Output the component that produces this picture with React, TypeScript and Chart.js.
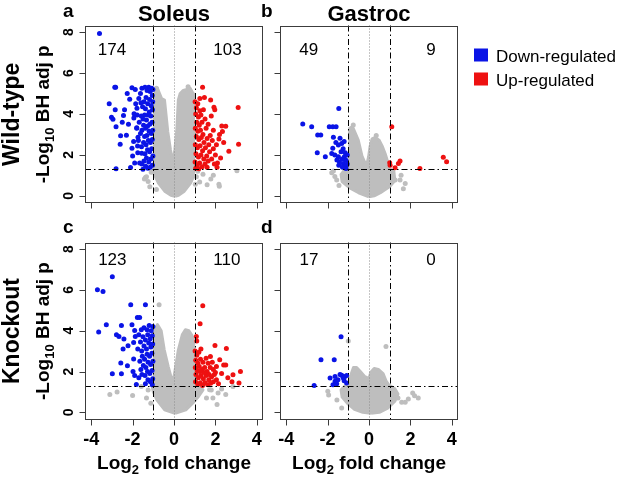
import React, { useEffect, useRef } from "react";
import { Chart, registerables } from "chart.js";

Chart.register(...registerables);

type Pt = [number, number];

// ---------- text & categories ----------
const COLUMNS = ["Soleus", "Gastroc"];
const ROWS = ["Wild-type", "Knockout"];
const PANEL_LETTERS = ["a", "b", "c", "d"];
const LEGEND_LABELS = ["Down-regulated", "Up-regulated"];
const DOWN_COUNTS = [174, 49, 123, 17];
const UP_COUNTS = [103, 9, 110, 0];

// ---------- axes ----------
const X_TICKS = [-4, -2, 0, 2, 4];
const Y_TICKS = [0, 2, 4, 6, 8];
const X_MIN = -4.3;
const X_MAX = 4.3;
const Y_MIN = -0.35;
const Y_MAX = 8.32;
const P_CUT = 1.301; // -log10(0.05)
const FC_CUT = 1;

// ---------- panel a : Soleus, wild-type ----------
const A_CORE: Pt[] = [
  [0.05, -0.02], [-0.15, 0.03], [-0.43, 0.21], [-0.75, 0.62], [-0.93, 1.0], [-0.95, 1.3], [-0.95, 3.2],
  [-0.94, 4.6], [-0.9, 5.15], [-0.8, 5.25], [-0.7, 5.0], [-0.6, 4.75], [-0.46, 4.68], [-0.3, 3.12],
  [-0.17, 2.24], [-0.06, 1.6], [0.04, 2.24], [0.13, 3.12], [0.21, 4.68], [0.3, 5.0], [0.45, 5.15],
  [0.62, 5.2], [0.78, 5.25], [0.92, 5.0], [0.95, 4.4], [0.95, 3.0], [0.95, 1.3], [0.92, 0.95],
  [0.8, 0.62], [0.48, 0.21], [0.22, 0.03],
];
const A_GRAY: Pt[] = [
  [-1.38, 0.9], [-0.85, 0.31], [1.03, 0.57], [1.6, 0.54], [2.17, 0.57], [3.04, 1.22], [1.9, 1.01],
  [-1.33, 0.93], [-1.17, 0.44], [-1.43, 0.82], [1.08, 0.93], [1.24, 0.68], [1.78, 0.82], [2.19, 0.47],
  [-1.25, 0.7], [1.4, 1.05], [-0.85, 5.26], [0.68, 5.33], [-1.1, 1.15], [1.15, 1.2],
];
const A_DOWN: Pt[] = [
  [-3.6, 7.93], [-2.86, 5.3], [-2.82, 5.3], [-3.13, 4.5], [-3.02, 3.84], [-2.95, 3.74], [-2.84, 4.2],
  [-2.8, 3.38], [-2.6, 2.52], [-2.8, 1.32], [-2.58, 2.94], [-2.44, 3.92], [-2.39, 4.2], [-2.3, 2.96],
  [-2.14, 4.72], [-2.03, 5.28], [-1.93, 4.01], [-1.94, 3.8], [-2.03, 2.33], [-2.0, 1.95], [-2.1, 1.38],
  [-1.87, 5.2], [-2.26, 5.0], [-1.79, 4.28], [-1.8, 3.33], [-1.74, 2.86], [-1.76, 2.44], [-1.66, 1.6],
  [-1.56, 2.08], [-1.5, 1.3], [-2.2, 3.5], [-1.95, 2.65], [-2.5, 3.6], [-1.9, 1.6],
  [-1.02, 5.2], [-1.05, 4.9], [-1.08, 5.25], [-1.15, 5.1], [-1.22, 5.3], [-1.3, 5.15], [-1.4, 5.3],
  [-1.55, 5.25], [-1.62, 5.0], [-1.7, 4.75], [-1.03, 4.6], [-1.1, 4.4], [-1.18, 4.7], [-1.27, 4.5],
  [-1.35, 4.8], [-1.45, 4.6], [-1.52, 4.35], [-1.6, 4.55], [-1.38, 4.25], [-1.2, 4.1], [-1.04, 4.2],
  [-1.12, 3.9], [-1.25, 3.95], [-1.33, 3.7], [-1.42, 3.95], [-1.5, 3.75], [-1.58, 3.9], [-1.68, 3.6],
  [-1.06, 3.6], [-1.17, 3.5], [-1.28, 3.4], [-1.37, 3.3], [-1.47, 3.45], [-1.55, 3.2], [-1.03, 3.2],
  [-1.1, 3.05], [-1.2, 3.15], [-1.31, 2.95], [-1.42, 2.9], [-1.62, 3.05], [-1.05, 2.75], [-1.14, 2.6],
  [-1.24, 2.7], [-1.35, 2.5], [-1.47, 2.6], [-1.57, 2.4], [-1.08, 2.3], [-1.18, 2.15], [-1.28, 2.25],
  [-1.4, 2.05], [-1.02, 1.95], [-1.12, 1.8], [-1.22, 1.65], [-1.33, 1.85], [-1.45, 1.7], [-1.04, 1.5],
  [-1.15, 1.4], [-1.26, 1.35], [-1.37, 1.45], [-1.55, 1.55], [-1.75, 2.1], [-1.72, 2.7], [-1.8, 3.3],
  [-1.78, 3.95], [-1.85, 4.5],
];
const A_UP: Pt[] = [
  [1.38, 5.3], [1.47, 4.8], [1.77, 4.68], [1.93, 4.33], [1.97, 4.2], [3.1, 4.31], [2.31, 3.41],
  [2.34, 3.14], [3.12, 2.52], [2.65, 2.18], [2.17, 2.77], [2.1, 1.6], [2.08, 1.4], [1.6, 1.4],
  [2.2, 3.0], [2.5, 3.4], [2.05, 2.5], [2.4, 2.6], [2.25, 1.85],
  [1.02, 4.6], [1.08, 4.3], [1.15, 4.5], [1.25, 4.15], [1.05, 4.0], [1.18, 3.85], [1.3, 3.95],
  [1.42, 4.2], [1.1, 3.6], [1.22, 3.45], [1.35, 3.6], [1.5, 3.75], [1.03, 3.3], [1.15, 3.15],
  [1.28, 3.2], [1.4, 3.0], [1.55, 3.3], [1.65, 3.5], [1.08, 2.9], [1.2, 2.75], [1.32, 2.85],
  [1.45, 2.6], [1.6, 2.8], [1.75, 2.95], [1.03, 2.5], [1.13, 2.35], [1.26, 2.45], [1.38, 2.2],
  [1.52, 2.35], [1.68, 2.5], [1.85, 2.7], [1.06, 2.05], [1.18, 1.9], [1.3, 2.0], [1.44, 1.8],
  [1.58, 1.95], [1.72, 2.15], [1.9, 2.3], [1.02, 1.65], [1.12, 1.5], [1.24, 1.6], [1.36, 1.42],
  [1.5, 1.55], [1.65, 1.7], [1.82, 1.8], [1.05, 1.35], [1.2, 1.32], [1.95, 1.55], [2.0, 2.0],
  [1.9, 3.2], [1.8, 3.9], [1.25, 4.75],
];

// ---------- panel b : Gastroc, wild-type ----------
const B_CORE: Pt[] = [
  [0.0, -0.05], [-0.5, 0.15], [-0.95, 0.4], [-1.3, 0.7], [-1.35, 1.05], [-1.15, 1.3], [-0.95, 1.4],
  [-0.95, 2.6], [-0.92, 3.3], [-0.8, 3.38], [-0.68, 3.1], [-0.52, 2.72], [-0.33, 1.91], [-0.12, 1.45],
  [-0.02, 1.9], [0.05, 2.4], [0.15, 2.78], [0.3, 2.85], [0.5, 2.7], [0.65, 2.4], [0.8, 2.0],
  [0.92, 1.6], [0.95, 1.35], [1.2, 1.2], [1.25, 0.75], [1.0, 0.45], [0.55, 0.15], [0.25, 0.0],
];
const B_GRAY: Pt[] = [
  [-1.8, 1.13], [-1.56, 0.77], [-1.72, 1.21], [-1.65, 0.95], [1.66, 0.35], [1.26, 0.77], [1.5, 0.77],
  [1.55, 1.0], [-1.45, 0.5], [1.75, 0.6], [-0.76, 3.46], [0.35, 2.95],
];
const B_DOWN: Pt[] = [
  [-3.2, 3.51], [-2.77, 3.38], [-2.48, 2.97], [-2.33, 2.97], [-1.92, 3.38], [-1.75, 3.38], [-1.59, 3.38],
  [-1.46, 4.27], [-2.5, 2.1], [-2.11, 1.91], [-1.72, 2.86], [-1.4, 2.81], [-1.48, 2.48], [-1.32, 2.56],
  [-1.75, 2.32], [-1.8, 2.07], [-1.65, 2.0], [-1.48, 1.91], [-1.43, 1.66], [-1.24, 1.58], [-1.46, 1.5],
  [-1.11, 1.5], [-1.11, 1.34], [-1.19, 1.91], [-1.11, 1.74], [-1.25, 2.3], [-1.2, 2.65], [-1.35, 2.15],
  [-1.55, 1.75], [-1.3, 1.8], [-1.05, 1.55], [-1.15, 2.1], [-1.6, 2.6], [-1.28, 1.4], [-1.05, 2.0],
];
const B_UP: Pt[] = [
  [1.1, 3.38], [1.0, 1.62], [1.02, 1.5], [1.26, 1.37], [1.42, 1.58], [1.5, 1.7], [2.46, 1.34],
  [3.59, 1.88], [3.75, 1.66],
];

// ---------- panel c : Soleus, knockout ----------
const C_CORE: Pt[] = [
  [0.05, -0.05], [-0.45, 0.12], [-0.82, 0.6], [-1.0, 1.0], [-1.05, 1.27], [-0.95, 1.4], [-0.95, 3.3],
  [-0.9, 4.1], [-0.8, 4.3], [-0.62, 4.0], [-0.47, 3.05], [-0.28, 2.24], [-0.15, 1.75], [-0.04, 1.6],
  [0.0, 1.75], [0.08, 2.24], [0.21, 3.05], [0.4, 3.8], [0.55, 4.05], [0.72, 4.0], [0.88, 3.75],
  [0.95, 3.4], [0.95, 1.4], [1.2, 1.3], [1.4, 1.1], [1.2, 0.8], [0.95, 0.5], [0.57, 0.12],
];
const C_GRAY: Pt[] = [
  [-3.1, 0.87], [-2.75, 1.0], [-2.0, 0.83], [-1.58, 1.27], [-1.33, 0.7], [-1.12, 0.45], [-0.72, 5.27],
  [2.13, 0.95], [2.5, 0.87], [2.08, 0.38], [1.57, 0.7], [2.85, 1.27], [-1.25, 1.1], [1.8, 1.1],
  [2.3, 1.15], [1.88, 0.7], [1.72, 1.11],
];
const C_DOWN: Pt[] = [
  [-2.98, 6.64], [-3.7, 6.0], [-3.43, 5.92], [-3.27, 4.29], [-3.64, 3.93], [-2.09, 5.27], [-1.38, 5.27],
  [-1.77, 4.65], [-1.66, 4.65], [-2.54, 4.26], [-2.03, 4.29], [-1.9, 4.01], [-2.78, 3.8], [-2.66, 3.72],
  [-2.42, 3.59], [-2.22, 3.26], [-2.46, 3.1], [-1.95, 3.42], [-1.87, 3.72], [-2.98, 1.89], [-2.54, 1.89],
  [-2.57, 2.42], [-2.25, 2.28], [-1.95, 2.61], [-1.98, 2.0], [-1.9, 1.8], [-1.82, 1.36],
  [-1.02, 4.2], [-1.1, 4.0], [-1.2, 4.25], [-1.3, 4.05], [-1.45, 4.15], [-1.58, 4.05], [-1.05, 3.75],
  [-1.15, 3.6], [-1.27, 3.8], [-1.38, 3.55], [-1.5, 3.7], [-1.62, 3.45], [-1.03, 3.35], [-1.12, 3.2],
  [-1.22, 3.4], [-1.33, 3.1], [-1.45, 3.25], [-1.56, 3.0], [-1.07, 2.9], [-1.18, 2.75], [-1.3, 2.85],
  [-1.42, 2.6], [-1.53, 2.75], [-1.65, 2.5], [-1.02, 2.5], [-1.13, 2.35], [-1.25, 2.45], [-1.36, 2.2],
  [-1.48, 2.3], [-1.6, 2.1], [-1.06, 2.05], [-1.17, 1.9], [-1.28, 2.0], [-1.4, 1.8], [-1.55, 1.85],
  [-1.03, 1.65], [-1.14, 1.5], [-1.26, 1.6], [-1.38, 1.4], [-1.05, 1.35], [-1.7, 1.7], [-1.75, 3.1],
  [-1.7, 3.8],
];
const C_UP: Pt[] = [
  [1.39, 5.22], [1.26, 4.34], [1.08, 3.72], [1.98, 3.28], [2.53, 3.13], [2.21, 2.58], [1.76, 2.74],
  [2.4, 2.32], [2.5, 2.32], [3.21, 2.0], [3.14, 1.44], [2.85, 1.84], [2.8, 1.5], [1.1, 3.5],
  [1.3, 3.1], [2.6, 1.7], [2.3, 1.9], [2.05, 2.25],
  [1.02, 3.0], [1.1, 2.8], [1.2, 2.95], [1.05, 2.55], [1.15, 2.4], [1.28, 2.6], [1.4, 2.45],
  [1.55, 2.65], [1.03, 2.2], [1.12, 2.05], [1.22, 2.25], [1.35, 2.1], [1.48, 2.2], [1.6, 2.0],
  [1.75, 2.2], [1.9, 2.1], [1.06, 1.85], [1.18, 1.7], [1.3, 1.8], [1.42, 1.65], [1.55, 1.8],
  [1.68, 1.6], [1.82, 1.75], [1.95, 1.85], [1.04, 1.5], [1.15, 1.38], [1.27, 1.45], [1.38, 1.32],
  [1.5, 1.45], [1.63, 1.35], [1.77, 1.42], [1.9, 1.5], [2.05, 1.6], [2.15, 1.4], [1.65, 2.4],
  [1.85, 2.45], [2.0, 1.95], [1.45, 1.95], [1.25, 2.0], [1.7, 1.85],
];

// ---------- panel d : Gastroc, knockout ----------
const D_CORE: Pt[] = [
  [0.1, -0.05], [-0.3, 0.0], [-0.7, 0.15], [-1.0, 0.4], [-1.3, 0.75], [-1.35, 1.1], [-1.15, 1.3],
  [-0.95, 1.45], [-0.85, 1.9], [-0.75, 2.2], [-0.6, 2.2], [-0.42, 2.0], [-0.2, 1.75], [0.0, 1.65],
  [0.08, 1.95], [0.25, 2.15], [0.45, 2.1], [0.68, 1.9], [0.82, 1.55], [0.95, 1.35], [1.25, 1.15],
  [1.4, 0.9], [1.25, 0.55], [0.9, 0.2], [0.5, 0.0],
];
const D_GRAY: Pt[] = [
  [-1.99, 1.03], [-1.95, 0.85], [-1.32, 0.21], [1.26, 0.95], [1.58, 0.49], [1.75, 0.5], [2.11, 0.95],
  [2.2, 0.81], [2.38, 0.7], [1.4, 0.7], [-1.0, 3.5], [0.82, 3.23], [-1.55, 0.6], [1.9, 0.65],
];
const D_DOWN: Pt[] = [
  [-1.35, 3.7], [-2.32, 2.58], [-1.68, 2.58], [-1.88, 1.68], [-1.64, 1.76], [-1.4, 1.85], [-1.32, 1.82],
  [-1.16, 1.76], [-1.08, 1.8], [-1.64, 1.52], [-1.56, 1.4], [-1.74, 1.35], [-1.08, 1.44], [-2.65, 1.32],
  [-1.25, 1.7], [-1.5, 1.6], [-1.2, 1.55],
];
const D_UP: Pt[] = [];

const PANEL_DATA = [
  { core: A_CORE, gray: A_GRAY, down: A_DOWN, up: A_UP },
  { core: B_CORE, gray: B_GRAY, down: B_DOWN, up: B_UP },
  { core: C_CORE, gray: C_GRAY, down: C_DOWN, up: C_UP },
  { core: D_CORE, gray: D_GRAY, down: D_DOWN, up: D_UP },
];

// count label anchor (data coordinates)
const COUNT_ANCHORS = [
  { down: [-3.0, 7.1], up: [2.58, 7.1] },
  { down: [-2.91, 7.1], up: [3.0, 7.1] },
  { down: [-2.98, 7.47], up: [2.55, 7.47] },
  { down: [-2.9, 7.47], up: [3.0, 7.47] },
];

// ---------- layout / style ----------
const W = 620;
const H = 477;
const BOXES = [
  { left: 85, top: 25.5, right: 263, bottom: 203 },
  { left: 280, top: 25.5, right: 458, bottom: 203 },
  { left: 85, top: 242.5, right: 263, bottom: 419.5 },
  { left: 280, top: 242.5, right: 458, bottom: 419.5 },
];
const FONT = "'Liberation Sans', Arial, Helvetica, sans-serif";
const GRAY = "#bebebe";
const BLUE = "#0a14e6";
const RED = "#ee1111";

type Part = [string, number, boolean, number];

function rich(ctx: CanvasRenderingContext2D, parts: Part[], x: number, y: number, center: boolean) {
  let total = 0;
  const widths: number[] = [];
  for (const [t, s, b] of parts) {
    ctx.font = `${b ? "bold " : ""}${s}px ${FONT}`;
    const w = ctx.measureText(t).width;
    widths.push(w);
    total += w;
  }
  let cx = center ? x - total / 2 : x;
  ctx.textAlign = "left";
  ctx.textBaseline = "alphabetic";
  parts.forEach(([t, s, b, dy], i) => {
    ctx.font = `${b ? "bold " : ""}${s}px ${FONT}`;
    ctx.fillText(t, cx, y + dy);
    cx += widths[i];
  });
}

function richRotated(ctx: CanvasRenderingContext2D, parts: Part[], baseX: number, centerY: number) {
  ctx.save();
  ctx.translate(baseX, centerY);
  ctx.rotate(-Math.PI / 2);
  rich(ctx, parts, 0, 0, true);
  ctx.restore();
}

function seg(ctx: CanvasRenderingContext2D, x1: number, y1: number, x2: number, y2: number) {
  ctx.beginPath();
  ctx.moveTo(x1, y1);
  ctx.lineTo(x2, y2);
  ctx.stroke();
}

const Y_LABEL: Part[] = [["-Log", 19, true, 0], ["10", 13, true, 5], [" BH adj p", 19, true, 0]];
const X_LABEL: Part[] = [["Log", 19, true, 0], ["2", 13, true, 5], [" fold change", 19, true, 0]];

function makePlugin(i: number) {
  const row = Math.floor(i / 2);
  const col = i % 2;
  return {
    id: "volcano" + i,
    afterDatasetsDraw(chart: any) {
      const { ctx, chartArea: a, scales } = chart;
      const sx = scales.x;
      const sy = scales.y;
      ctx.save();
      ctx.lineWidth = 1;
      // x = 0 reference
      ctx.strokeStyle = "#8c8c8c";
      ctx.setLineDash([1, 2]);
      const x0 = Math.round(sx.getPixelForValue(0)) + 0.5;
      seg(ctx, x0, a.top, x0, a.bottom);
      // thresholds
      ctx.strokeStyle = "#000";
      ctx.setLineDash([6, 3, 1.5, 3]);
      for (const v of [-FC_CUT, FC_CUT]) {
        const px = Math.round(sx.getPixelForValue(v)) + 0.5;
        seg(ctx, px, a.top, px, a.bottom);
      }
      const py = Math.round(sy.getPixelForValue(P_CUT)) + 0.5;
      seg(ctx, a.left, py, a.right, py);
      ctx.setLineDash([]);
      // box
      ctx.strokeStyle = "#3c3c3c";
      const L = Math.round(a.left) + 0.5;
      const T = Math.round(a.top) + 0.5;
      const R = Math.round(a.right) - 0.5;
      const B = Math.round(a.bottom) - 0.5;
      ctx.strokeRect(L, T, R - L, B - T);
      // ticks
      for (const t of X_TICKS) {
        const px = Math.round(sx.getPixelForValue(t)) + 0.5;
        seg(ctx, px, B, px, B + 6);
      }
      for (const t of Y_TICKS) {
        const yy = Math.round(sy.getPixelForValue(t)) + 0.5;
        seg(ctx, L - 6, yy, L, yy);
      }
      ctx.fillStyle = "#000";
      if (col === 0) {
        for (const t of Y_TICKS) {
          const yy = sy.getPixelForValue(t);
          richRotated(ctx, [[String(t), 14, true, 0]], 72.5, yy);
        }
      }
      if (row === 1) {
        ctx.font = `bold 18px ${FONT}`;
        ctx.textAlign = "center";
        ctx.textBaseline = "alphabetic";
        for (const t of X_TICKS) {
          ctx.fillText(String(t), sx.getPixelForValue(t), 445);
        }
      }
      // counts
      ctx.font = `17px ${FONT}`;
      ctx.textAlign = "center";
      ctx.textBaseline = "middle";
      const ca = COUNT_ANCHORS[i];
      ctx.fillText(String(DOWN_COUNTS[i]), sx.getPixelForValue(ca.down[0]), sy.getPixelForValue(ca.down[1]));
      ctx.fillText(String(UP_COUNTS[i]), sx.getPixelForValue(ca.up[0]), sy.getPixelForValue(ca.up[1]));
      ctx.restore();
    },
    afterDraw(chart: any) {
      const { ctx, chartArea: a } = chart;
      const cx = (a.left + a.right) / 2;
      const cy = (a.top + a.bottom) / 2;
      ctx.save();
      ctx.fillStyle = "#000";
      // panel letter
      rich(ctx, [[PANEL_LETTERS[i], 19, true, 0]], col === 0 ? 63 : 261, row === 0 ? 16.7 : 233.3, false);
      if (row === 0) rich(ctx, [[COLUMNS[col], 22, true, 0]], cx, 20.5, true);
      if (col === 0) {
        richRotated(ctx, [[ROWS[row], 23, true, 0]], 18.5, cy);
        richRotated(ctx, Y_LABEL, 49, cy);
      }
      if (row === 1) rich(ctx, X_LABEL, cx, 469, true);
      if (i === 1) {
        const colors = [BLUE, RED];
        LEGEND_LABELS.forEach((lab, k) => {
          ctx.fillStyle = colors[k];
          ctx.fillRect(474, 48.5 + k * 24, 14, 13);
          ctx.fillStyle = "#000";
          rich(ctx, [[lab, 17, false, 0]], 496, 62 + k * 24, false);
        });
      }
      ctx.restore();
    },
  };
}

const toXY = (pts: Pt[]) => pts.map(([x, y]) => ({ x, y }));

function Panel({ index }: { index: number }) {
  const ref = useRef<HTMLCanvasElement | null>(null);
  useEffect(() => {
    const d = PANEL_DATA[index];
    const box = BOXES[index];
    const pointStyle = (c: string) => ({
      backgroundColor: c,
      borderColor: c,
      borderWidth: 0,
      pointRadius: 2.5,
      pointHoverRadius: 2.5,
    });
    const chart = new Chart(ref.current as HTMLCanvasElement, {
      type: "scatter",
      data: {
        datasets: [
          { label: "Down-regulated", data: toXY(d.down), ...pointStyle(BLUE) } as any,
          { label: "Up-regulated", data: toXY(d.up), ...pointStyle(RED) } as any,
          { label: "Not significant", data: toXY(d.gray), ...pointStyle(GRAY) } as any,
          {
            type: "line",
            label: "Not significant (dense)",
            data: toXY([...d.core, d.core[0]]),
            borderColor: GRAY,
            backgroundColor: GRAY,
            borderWidth: 3,
            borderJoinStyle: "round",
            pointRadius: 0,
            fill: "shape",
            tension: 0,
          } as any,
        ],
      },
      options: {
        responsive: false,
        animation: false,
        events: [],
        layout: {
          padding: { left: box.left, top: box.top, right: W - box.right, bottom: H - box.bottom },
        },
        plugins: { legend: { display: false }, tooltip: { enabled: false } },
        scales: {
          x: { type: "linear", display: false, min: X_MIN, max: X_MAX },
          y: { type: "linear", display: false, min: Y_MIN, max: Y_MAX },
        },
      },
      plugins: [makePlugin(index)],
    });
    return () => chart.destroy();
  }, [index]);
  return (
    <canvas
      ref={ref}
      width={W}
      height={H}
      style={{ position: "absolute", left: 0, top: 0, width: W, height: H }}
    />
  );
}

export default function App() {
  return (
    <div style={{ position: "absolute", left: 0, top: 0, width: W, height: H, background: "#fff" }}>
      {[0, 1, 2, 3].map((i) => (
        <Panel key={i} index={i} />
      ))}
    </div>
  );
}
